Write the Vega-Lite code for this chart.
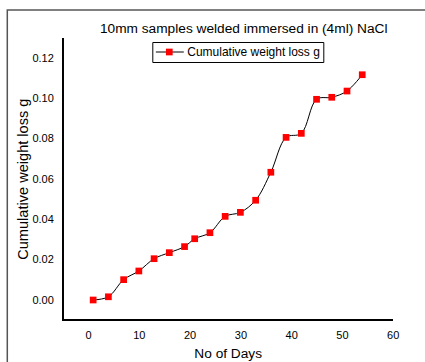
{
  "$schema": "https://vega.github.io/schema/vega-lite/v6.json",
  "autosize": "none",
  "padding": {"left": 7.3, "top": 10, "right": 0, "bottom": 0},
  "width": 420,
  "height": 362,
  "background": "white",
  "title": {
    "text": "10mm samples welded immersed in (4ml) NaCl",
    "frame": "group",
    "anchor": "middle",
    "dx": 26.4,
    "dy": 14,
    "offset": -22.7,
    "baseline": "alphabetic",
    "font": "Liberation Sans",
    "fontSize": 13.7,
    "fontWeight": "normal",
    "color": "black"
  },
  "data": {
    "values": [
      {"day": 1, "loss": 0.0000},
      {"day": 4, "loss": 0.0016},
      {"day": 7, "loss": 0.0101},
      {"day": 10, "loss": 0.0144},
      {"day": 13, "loss": 0.0205},
      {"day": 16, "loss": 0.0235},
      {"day": 19, "loss": 0.0265},
      {"day": 21, "loss": 0.0304},
      {"day": 24, "loss": 0.0334},
      {"day": 27, "loss": 0.0415},
      {"day": 30, "loss": 0.0435},
      {"day": 33, "loss": 0.0495},
      {"day": 36, "loss": 0.0634},
      {"day": 39, "loss": 0.0807},
      {"day": 42, "loss": 0.0827},
      {"day": 45, "loss": 0.0996},
      {"day": 48, "loss": 0.1006},
      {"day": 51, "loss": 0.1037},
      {"day": 54, "loss": 0.1118}
    ]
  },
  "encoding": {
    "x": {
      "field": "day",
      "type": "quantitative",
      "scale": {"domain": [-15.912, 66.815], "nice": false, "zero": false},
      "axis": {
        "title": "No of Days",
        "values": [0, 10, 20, 30, 40, 50, 60],
        "format": "d",
        "offset": -51.7,
        "domain": false,
        "ticks": false,
        "tickSize": 0,
        "grid": false,
        "labelPadding": 9,
        "labelFlush": false,
        "labelOverlap": false,
        "titlePadding": 6,
        "titleX": 220.4
      }
    },
    "y": {
      "field": "loss",
      "type": "quantitative",
      "scale": {"domain": [-0.03573, 0.14392], "nice": false, "zero": false},
      "axis": {
        "title": "Cumulative weight loss g",
        "values": [0, 0.02, 0.04, 0.06, 0.08, 0.1, 0.12],
        "format": ".2f",
        "offset": -55.4,
        "domain": false,
        "ticks": false,
        "tickSize": 0,
        "grid": false,
        "labelPadding": 9.4,
        "labelFlush": false,
        "labelOverlap": false,
        "titlePadding": 1,
        "titleY": 168.7,
        "titleFontSize": 14.6
      }
    }
  },
  "layer": [
    {
      "mark": {"type": "rule", "color": "black", "strokeWidth": 1},
      "encoding": {
        "x": {"datum": -5, "type": "quantitative"},
        "y": {"datum": -0.01, "type": "quantitative"},
        "y2": {"datum": 0.13}
      }
    },
    {
      "mark": {"type": "rule", "color": "black", "strokeWidth": 1},
      "encoding": {
        "y": {"datum": -0.01, "type": "quantitative"},
        "x": {"datum": -5, "type": "quantitative"},
        "x2": {"datum": 60}
      }
    },
    {
      "mark": {"type": "line", "interpolate": "catmull-rom", "strokeWidth": 1},
      "encoding": {
        "stroke": {
          "datum": "Cumulative weight loss g",
          "type": "nominal",
          "scale": {"range": ["black"]},
          "legend": {
            "title": null,
            "orient": "none",
            "legendX": 145,
            "legendY": 32,
            "symbolType": "stroke",
            "symbolSize": 784,
            "symbolStrokeWidth": 1,
            "clipHeight": 14,
            "strokeColor": "black",
            "padding": 3,
            "labelOffset": 3,
            "labelFont": "Liberation Sans",
            "labelFontSize": 12,
            "labelColor": "black",
            "fillColor": "white"
          }
        }
      }
    },
    {
      "mark": {"type": "point", "shape": "square", "size": 45, "filled": true, "opacity": 1},
      "encoding": {
        "fill": {
          "datum": " ",
          "type": "nominal",
          "scale": {"range": ["#ff0000"]},
          "legend": {
            "title": null,
            "orient": "none",
            "legendX": 158.5,
            "legendY": 38.5,
            "symbolType": "square",
            "symbolSize": 45,
            "symbolStrokeWidth": 0,
            "symbolOpacity": 1,
            "padding": 0,
            "labelFontSize": 1
          }
        }
      }
    }
  ],
  "config": {
    "view": {"stroke": "#555555", "strokeWidth": 1.5},
    "axis": {
      "labelFont": "Liberation Sans",
      "labelFontSize": 11,
      "labelColor": "black",
      "titleFont": "Liberation Sans",
      "titleFontSize": 13.7,
      "titleFontWeight": "normal",
      "titleColor": "black"
    }
  }
}
